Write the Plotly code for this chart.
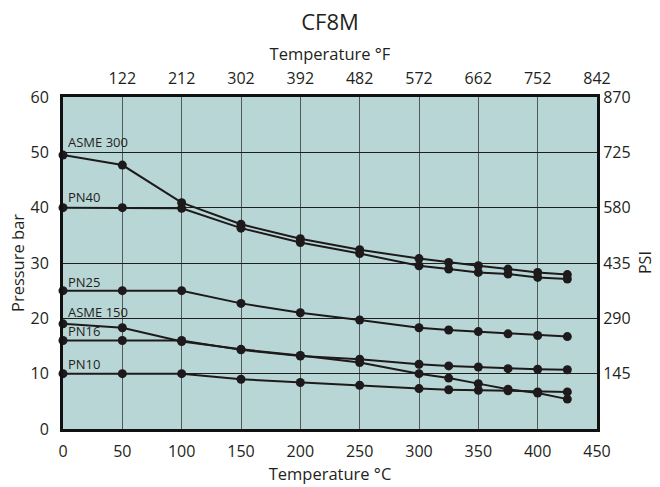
import plotly.graph_objects as go

temps_c = [0, 50, 100, 150, 200, 250, 300, 325, 350, 375, 400, 425]
asme300 = [49.5, 47.7, 40.9, 37.0, 34.4, 32.4, 30.8, 30.1, 29.5, 28.9, 28.3, 27.9]
pn40 = [40, 40, 39.9, 36.3, 33.7, 31.7, 29.5, 28.9, 28.3, 28.0, 27.4, 27.1]
pn25 = [25, 25, 25, 22.7, 21.0, 19.7, 18.3, 17.9, 17.6, 17.2, 16.9, 16.7]
asme150 = [19.0, 18.3, 15.8, 14.4, 13.3, 12.0, 10.0, 9.2, 8.2, 7.2, 6.5, 5.4]
pn16 = [16, 16, 16, 14.3, 13.2, 12.6, 11.7, 11.4, 11.2, 10.9, 10.8, 10.7]
pn10 = [10, 10, 10, 9.0, 8.4, 7.9, 7.3, 7.1, 7.0, 6.9, 6.7, 6.7]

series = [
    ("ASME 300", asme300, 13),
    ("PN40", pn40, 11),
    ("PN25", pn25, 9),
    ("ASME 150", asme150, 12),
    ("PN16", pn16, 9),
    ("PN10", pn10, 10),
]

bottom_tickvals = [0, 50, 100, 150, 200, 250, 300, 350, 400, 450]
top_tickvals = [50, 100, 150, 200, 250, 300, 350, 400, 450]
top_ticktext = ["122", "212", "302", "392", "482", "572", "662", "752", "842"]
bar_tickvals = [0, 10, 20, 30, 40, 50, 60]
psi_tickvals = [145, 290, 435, 580, 725, 870]

FONT = "Open Sans"
TXT = "#231f20"
LINE = "#1e1a1b"

fig = go.Figure()
for name, vals, _ in series:
    fig.add_trace(go.Scatter(
        x=temps_c, y=vals, mode="lines+markers", name=name,
        line=dict(color=LINE, width=2),
        marker=dict(color=LINE, size=9),
        cliponaxis=False, showlegend=False,
    ))

# invisible trace to activate secondary axes
fig.add_trace(go.Scatter(x=[0, 450], y=[0, 870], xaxis="x2", yaxis="y2",
                         mode="markers", marker=dict(opacity=0), hoverinfo="skip",
                         showlegend=False))

for name, vals, shift in series:
    fig.add_annotation(x=0, y=vals[0], text=name, showarrow=False,
                       xanchor="left", yanchor="middle", xshift=3, yshift=shift,
                       font=dict(family=FONT, size=13, color=TXT))

fig.add_annotation(xref="paper", yref="paper", x=1, y=0.5, xshift=48,
                   text="PSI", textangle=-90, showarrow=False,
                   xanchor="center", yanchor="middle",
                   font=dict(family=FONT, size=16, color=TXT))

fig.update_layout(
    width=660, height=487,
    margin=dict(l=63, r=63, t=97, b=58),
    paper_bgcolor="white",
    plot_bgcolor="#b8d6d6",
    font=dict(family=FONT, color=TXT),
    title=dict(text="CF8M", x=0.5, xanchor="center", y=0.955, yanchor="middle",
               font=dict(family=FONT, size=22, color=TXT)),
    xaxis=dict(range=[0, 450], tickvals=bottom_tickvals, automargin=False,
               showgrid=True, gridcolor="#4f5a5a", gridwidth=1,
               showline=True, linecolor="#111", linewidth=3,
               zeroline=False, ticks="", ticklabelstandoff=6,
               tickfont=dict(size=16, color=TXT),
               title=dict(text="Temperature °C", font=dict(size=16.5, color=TXT), standoff=8)),
    xaxis2=dict(range=[0, 450], overlaying="x", side="top", tickvals=top_tickvals,
                ticktext=top_ticktext, showgrid=False, showline=True, linecolor="#111",
                linewidth=3, zeroline=False, ticks="", ticklabelstandoff=4, automargin=False,
                tickfont=dict(size=16, color=TXT),
                title=dict(text="Temperature °F", font=dict(size=16.5, color=TXT), standoff=2)),
    yaxis=dict(range=[0, 60], tickvals=bar_tickvals, automargin=False,
               showgrid=True, gridcolor="#1e1e1e", gridwidth=1,
               showline=True, linecolor="#111", linewidth=3,
               zeroline=False, ticks="", ticklabelstandoff=8,
               tickfont=dict(size=16, color=TXT),
               title=dict(text="Pressure bar", font=dict(size=16.5, color=TXT), standoff=2)),
    yaxis2=dict(range=[0, 870], overlaying="y", side="right", tickvals=psi_tickvals,
                showgrid=False, showline=True, linecolor="#111", linewidth=3, automargin=False,
                zeroline=False, ticks="", ticklabelstandoff=0,
                tickfont=dict(size=16, color=TXT)),
)

fig.write_html("out.html")
